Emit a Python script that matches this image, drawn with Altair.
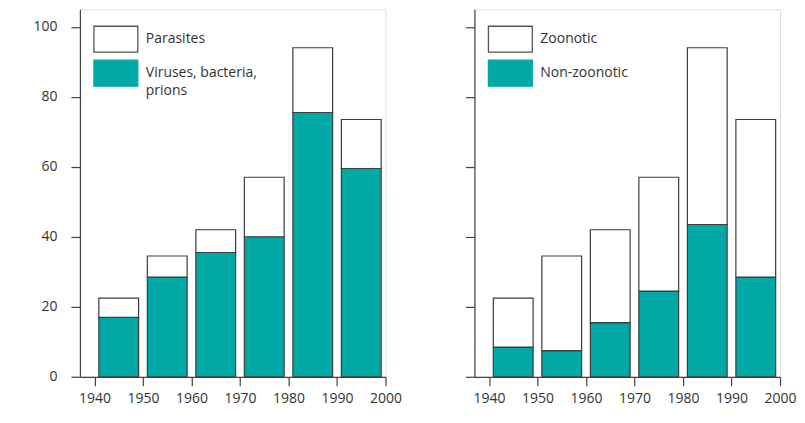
import altair as alt
import pandas as pd

# ---- data ----
decades = [1940, 1950, 1960, 1970, 1980, 1990]
totals = [22.5, 34.5, 42, 57, 94, 73.5]
viruses_bacteria_prions = [17, 28.5, 35.5, 40, 75.5, 59.5]
non_zoonotic = [8.5, 7.5, 15.5, 24.5, 43.5, 28.5]

left_cats = ["Parasites", "Viruses, bacteria, prions"]
right_cats = ["Zoonotic", "Non-zoonotic"]
x_ticks = [1940, 1950, 1960, 1970, 1980, 1990, 2000]
y_ticks = [0, 20, 40, 60, 80, 100]

TEAL = "#00a9a5"
EDGE = "#3d3d3d"
FONT = "Open Sans"
TXT = "#333333"
FS = 14


def long_table(base_vals, top_cat, base_cat):
    rows = []
    for d, t, b in zip(decades, totals, base_vals):
        rows.append({"decade": d, "category": base_cat, "y0": 0, "y1": b})
        rows.append({"decade": d, "category": top_cat, "y0": b, "y1": t})
    return pd.DataFrame(rows)


def panel(df, cats, show_y_labels, multiline_expr):
    legend = alt.Legend(
        title=None,
        orient="none",
        legendX=13,
        legendY=16,
        padding=0,
        symbolType="M-1.69,-1H1.69V1H-1.69Z",
        symbolSize=676,
        symbolOffset=9,
        labelOffset=16,
        rowPadding=2,
        labelFont=FONT,
        labelFontSize=FS,
        labelColor=TXT,
        labelLimit=220,
        labelExpr=multiline_expr,
        symbolStrokeColor=alt.ExprRef(expr=f"datum.value == '{cats[0]}' ? '#555555' : '{TEAL}'"),
        symbolStrokeWidth=1.3,
    )
    return (
        alt.Chart(df)
        .transform_calculate(xs="datum.decade + 0.9", xe="datum.decade + 9.1")
        .mark_rect(stroke=EDGE, strokeWidth=1.2)
        .encode(
            x=alt.X(
                "xs:Q",
                scale=alt.Scale(domain=[1937, 2000], nice=False, zero=False),
                axis=alt.Axis(
                    values=x_ticks,
                    format="d",
                    title=None,
                    grid=False,
                    tickSize=9,
                    labelPadding=6,
                    labelFlush=False,
                    labelOverlap=False,
                    labelFont=FONT,
                    labelFontSize=FS,
                    labelColor=TXT,
                    domainColor="#444444",
                    tickColor="#444444",
                    domainWidth=1.2,
                    tickWidth=1.2,
                ),
            ),
            x2="xe:Q",
            y=alt.Y(
                "y0:Q",
                scale=alt.Scale(domain=[0, 105], nice=False),
                axis=alt.Axis(
                    values=y_ticks,
                    title=None,
                    grid=False,
                    tickSize=9,
                    labels=show_y_labels,
                    labelPadding=14,
                    labelFlush=False,
                    labelFont=FONT,
                    labelFontSize=FS,
                    labelColor=TXT,
                    domainColor="#444444",
                    tickColor="#444444",
                    domainWidth=1.2,
                    tickWidth=1.2,
                ),
            ),
            y2="y1:Q",
            fill=alt.Fill(
                "category:N",
                scale=alt.Scale(domain=cats, range=["white", TEAL]),
                legend=legend,
            ),
        )
        .properties(width=306, height=368)
    )


left_df = long_table(viruses_bacteria_prions, left_cats[0], left_cats[1])
right_df = long_table(non_zoonotic, right_cats[0], right_cats[1])

left = panel(
    left_df,
    left_cats,
    True,
    "datum.label == 'Viruses, bacteria, prions' ? ['Viruses, bacteria,', 'prions'] : datum.label",
)
right = panel(right_df, right_cats, False, "datum.label")

chart = (
    alt.hconcat(left, right, spacing=61)
    .resolve_scale(fill="independent")
    .properties(padding={"left": 24, "top": 0, "right": 0, "bottom": 0})
    .configure_view(stroke=None)
    .configure(style={"guide-label": {"lineHeight": 18}})
)

chart.save("out.html", embed_options={"renderer": "svg", "actions": False})
